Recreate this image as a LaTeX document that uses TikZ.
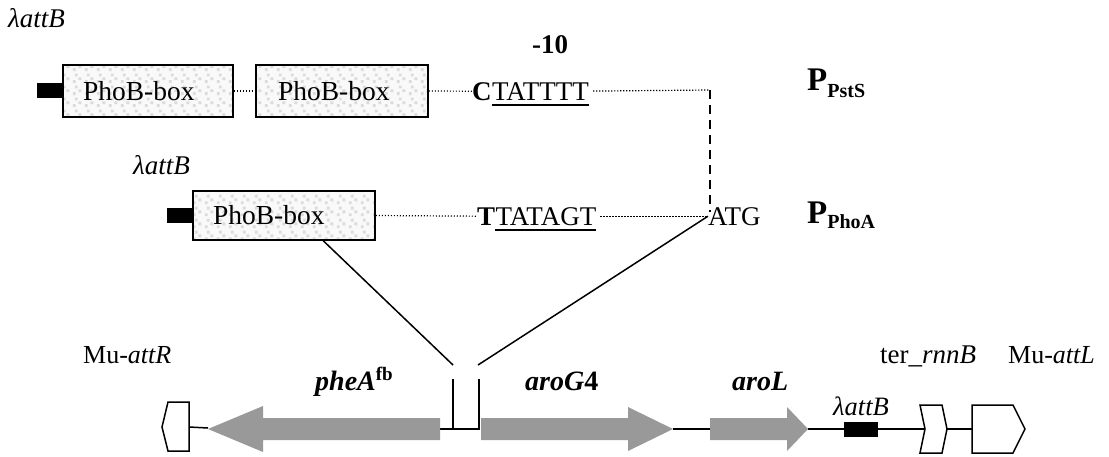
\documentclass[tikz,border=0pt]{standalone}
\usepackage{fontspec}
\setmainfont{Liberation Serif}
\usetikzlibrary{patterns.meta,calc}
\tikzdeclarepattern{
  name=speckle,
  type=uncolored,
  bounding box={(0,0) and (12pt,12pt)},
  tile size={(12pt,12pt)},
  code={
    \fill (1pt,1pt) rectangle (4pt,4pt);
    \fill (7pt,4pt) rectangle (10pt,7pt);
    \fill (3pt,8pt) rectangle (6pt,11pt);
  }
}
\tikzset{
  lbl/.style={inner sep=0pt, anchor=base west, font=\fontsize{27}{30}\selectfont},
  pbox/.style={draw, line width=1.5pt, preaction={fill=gray!5}, pattern=speckle,
    pattern color=gray!28, inner ysep=0pt, inner xsep=10pt, align=left,
    font=\fontsize{27.5}{30}\selectfont},
  blk/.style={fill=black, draw=none},
  dotline/.style={line width=1.2pt, dash pattern=on 1.2pt off 1.8pt},
  dashline/.style={line width=1.5pt, dash pattern=on 9pt off 6pt},
  conn/.style={line width=1.5pt},
  uline/.style={line width=1.5pt},
  elem/.style={draw, line width=1.5pt, fill=white}
}
\definecolor{genegray}{RGB}{153,153,153}
\begin{document}
\begin{tikzpicture}[x=1pt,y=-1pt]
\useasboundingbox (0,0) rectangle (1109,456);

% ---- top row (P_PstS)
\node[lbl] (lam1) at (8,27) {\textit{λattB}};
\fill[blk] (37,83) rectangle (63,98);
\node[pbox, text width=150pt, minimum height=52pt] (box1) at (148,91) {\hspace*{10pt}PhoB-box};
\node[pbox, text width=152pt, minimum height=52pt] (box2) at (342,91) {\hspace*{12pt}PhoB-box};
\node[lbl] (m10) at (532,53) {\textbf{-10}};
\node[lbl] (seq1a) at (472,100) {\textbf{C}};
\node[lbl] (seq1b) at (seq1a.base east) {TATTTT};
\draw[uline] ($(seq1b.base west)+(0,5)$) -- ($(seq1b.base east)+(0,5)$);
\coordinate (c1) at (710,90);
\coordinate (c2) at (710,212);
\draw[dotline] (box1.east) -- (box2.west);
\draw[dotline] (box2.east) -- (seq1a.west);
\draw[dotline] ($(seq1b.east)+(4,0)$) -- (c1);
\draw[dashline] (c1) -- (c2);
\node[lbl, font=\fontsize{33}{36}\selectfont] (pst) at (807,90)
  {\textbf{P}\raisebox{-7pt}{\fontsize{20}{22}\selectfont\textbf{PstS}}};

% ---- middle row (P_PhoA)
\node[lbl] (lam2) at (133,174) {\textit{λattB}};
\fill[blk] (167,208) rectangle (193,223);
\node[pbox, text width=162pt, minimum height=49pt] (box3) at (284,215.5) {\hspace*{10pt}PhoB-box};
\node[lbl] (seq2a) at (477,225) {\textbf{T}};
\node[lbl] (seq2b) at (seq2a.base east) {TATAGT};
\draw[uline] ($(seq2b.base west)+(0,5)$) -- ($(seq2b.base east)+(0,5)$);
\node[lbl] (atg) at (708,225) {ATG};
\draw[dotline] (box3.east) -- (seq2a.west);
\draw[dotline] ($(seq2b.east)+(4,0)$) -- (atg.west);
\node[lbl, font=\fontsize{33}{36}\selectfont] (pho) at (807,223)
  {\textbf{P}\raisebox{-5pt}{\fontsize{20}{22}\selectfont\textbf{PhoA}}};

% ---- insertion site
\coordinate (i1) at (453,365);
\coordinate (i2) at (478,365);
\draw[conn] ($(box3.south west)!0.714!(box3.south east)$) -- (i1);
\draw[conn] (atg.west) -- (i2);
\draw[conn] (453,379) -- (453,429);
\draw[conn] (479,379) -- (479,429);
\draw[conn] (440,429) -- (480,429);

% ---- gene map
\fill[genegray] (440,418) -- (263,418) -- (263,406) -- (208,429) -- (263,452) -- (263,440) -- (440,440) -- cycle;
\fill[genegray] (481,418) -- (628,418) -- (628,407) -- (673,429) -- (628,451) -- (628,440) -- (481,440) -- cycle;
\fill[genegray] (710,418) -- (787,418) -- (787,407) -- (808,429) -- (787,451) -- (787,440) -- (710,440) -- cycle;
\coordinate (pheTip) at (208,428);
\coordinate (aroGtip) at (673,429);
\coordinate (aroLstart) at (710,429);
\coordinate (aroLtip) at (808,429);

\draw[elem] (189,402) -- (168,402) -- (162,427) -- (168,451) -- (189,451) -- cycle;
\coordinate (attRe) at (189,427);
\draw[conn] (attRe) -- (pheTip);

\draw[conn] (aroGtip) -- (aroLstart);
\coordinate (terIn) at (925,429);
\coordinate (terOut) at (947,429);
\draw[conn] (aroLtip) -- (terIn);
\fill[blk] (844,422) rectangle (878,437);
\draw[elem] (920,405) -- (942,405) -- (947,429) -- (942,453) -- (920,453) -- (925,429) -- cycle;
\coordinate (attLw) at (972,429);
\draw[conn] (terOut) -- (attLw);
\draw[elem] (972,405) -- (1013,405) -- (1025,429) -- (1013,453) -- (972,453) -- cycle;

% ---- gene labels
\node[lbl, font=\fontsize{26}{28}\selectfont] (muR) at (83,363) {Mu-\textit{attR}};
\node[lbl, font=\fontsize{28}{30}\selectfont] (phe) at (315,390)
  {\textbf{\textit{pheA}}\raisebox{10pt}{\fontsize{19}{20}\selectfont\textbf{fb}}};
\node[lbl, font=\fontsize{28}{30}\selectfont] (arog) at (525,390) {\textbf{\textit{aroG}4}};
\node[lbl, font=\fontsize{28}{30}\selectfont] (arol) at (732,390) {\textbf{\textit{aroL}}};
\node[lbl, font=\fontsize{26.5}{28}\selectfont] (lam3) at (833,415) {\textit{λattB}};
\node[lbl] (ter) at (880,363) {ter\_\textit{rnnB}};
\node[lbl, font=\fontsize{26}{28}\selectfont] (muL) at (1008,363) {Mu-\textit{attL}};
\end{tikzpicture}
\end{document}
